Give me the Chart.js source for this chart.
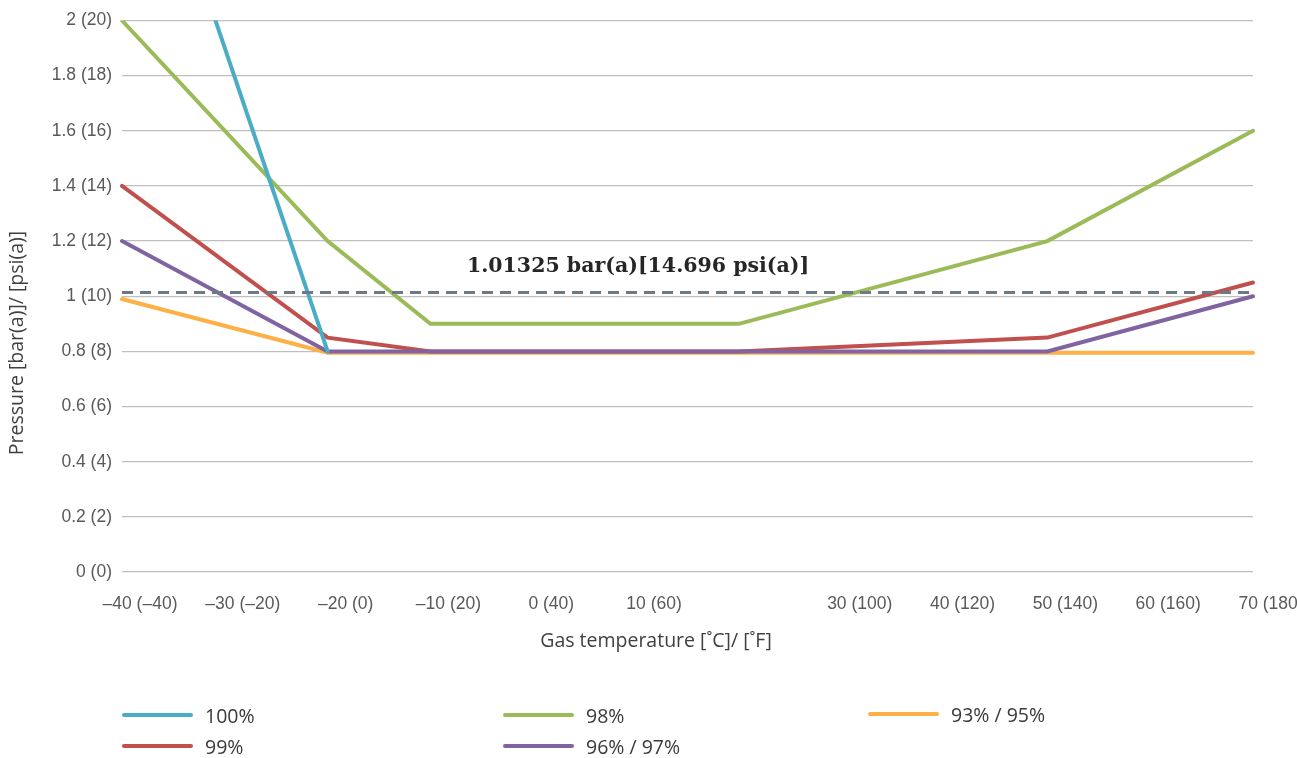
<!DOCTYPE html>
<html>
<head>
<meta charset="utf-8">
<script src="https://cdn.jsdelivr.net/npm/chart.js@4/dist/chart.umd.min.js"></script>
<style>
  html, body { margin: 0; padding: 0; background: #fff; }
  #wrap { position: relative; width: 1297px; height: 758px; overflow: hidden; }
  canvas { position: absolute; left: 0; top: 0; }
  .leg { position: absolute; display: flex; align-items: center; font-family: "Open Sans", sans-serif; font-size: 19.5px; color: #3a3a3a; }
  .leg span.sw { display: inline-block; width: 71px; height: 4px; border-radius: 2px; margin-right: 12px; flex: none; }
  .leg span.tx { display: inline-block; white-space: nowrap; }
</style>
</head>
<body>
<div id="wrap">
  <canvas id="c" width="1297" height="758"></canvas>
  <div id="legend"></div>
</div>
<script>
// ---- data ----
const categories = [-40, -30, -20, -10, 0, 10, 20, 30, 40, 50, 60, 70];
const xTickLabels = ["\u201340 (\u201340)", "\u201330 (\u201320)", "\u201320 (0)", "\u201310 (20)", "0 (40)", "10 (60)", "", "30 (100)", "40 (120)", "50 (140)", "60 (160)", "70 (180)"];
const yTickLabels = {0: "0 (0)", 0.2: "0.2 (2)", 0.4: "0.4 (4)", 0.6: "0.6 (6)", 0.8: "0.8 (8)", 1: "1 (10)", 1.2: "1.2 (12)", 1.4: "1.4 (14)", 1.6: "1.6 (16)", 1.8: "1.8 (18)", 2: "2 (20)"};

const s100   = [3.0, null, 0.8, null, null, null, null, null, null, null, null, null];
const s98    = [2.0, null, 1.2, 0.9, null, null, 0.9, null, null, 1.2, null, 1.6];
const s93_95 = [0.99, null, 0.795, null, null, null, null, null, null, null, null, 0.795];
const s99    = [1.4, null, 0.85, 0.8, null, null, 0.8, null, null, 0.85, null, 1.05];
const s96_97 = [1.2, null, 0.8, null, null, null, null, null, null, 0.8, null, 1.0];
const atmValue = 1.01325;
const atmSeries = categories.map(() => atmValue);
const atmLabel = "1.01325 bar(a)[14.696 psi(a)]";
const xTitle = "Gas temperature [˚C]/ [˚F]";
const yTitle = "Pressure [bar(a)]/ [psi(a)]";

const seriesNames = ["100%", "98%", "93% / 95%", "99%", "96% / 97%"];
const colors = {"100%": "#4bacc6", "98%": "#9bbb59", "93% / 95%": "#fdb045", "99%": "#c0504d", "96% / 97%": "#8064a2"};

// ---- legend (HTML) ----
const legendPos = [
  {name: "100%", x: 122, y: 714},
  {name: "98%", x: 503, y: 714},
  {name: "93% / 95%", x: 868, y: 713},
  {name: "99%", x: 122, y: 745},
  {name: "96% / 97%", x: 503, y: 745}
];
const legEl = document.getElementById('legend');
legendPos.forEach(p => {
  const d = document.createElement('div');
  d.className = 'leg';
  d.style.left = p.x + 'px';
  d.style.top = (p.y - 13) + 'px';
  d.style.height = '28px';
  d.innerHTML = '<span class="sw" style="background:' + colors[p.name] + '"></span><span class="tx">' + p.name + '</span>';
  legEl.appendChild(d);
});

const tickFont = {family: "'Liberation Sans', Arial, sans-serif", size: 17.5};

const annotationPlugin = {
  id: 'atmLabel',
  afterDatasetsDraw(chart) {
    const {ctx, scales: {x, y}} = chart;
    const px = x.getPixelForValue(5) + 2;
    const py = y.getPixelForValue(atmValue) - 26;
    ctx.save();
    ctx.font = "bold 20.5px 'DejaVu Serif', serif";
    ctx.fillStyle = '#262626';
    ctx.textAlign = 'center';
    ctx.textBaseline = 'middle';
    ctx.fillText(atmLabel, px, py);
    // axis titles
    ctx.fillStyle = '#404040';
    ctx.font = "19.5px 'Open Sans', sans-serif";
    ctx.fillText(xTitle, 656, 641);
    ctx.save();
    ctx.font = "19.5px 'Open Sans', sans-serif";
    ctx.translate(17, 343);
    ctx.rotate(-Math.PI / 2);
    ctx.fillText(yTitle, 0, 0);
    ctx.restore();
    ctx.restore();
  }
};

const line = (label, data, color) => ({
  label, data, borderColor: color, backgroundColor: color,
  borderWidth: 4, pointRadius: 0, spanGaps: true, tension: 0, borderCapStyle: 'round', borderJoinStyle: 'miter'
});

new Chart(document.getElementById('c'), {
  type: 'line',
  data: {
    labels: categories,
    datasets: [
      {label: 'atm', data: atmSeries, borderColor: '#6b7a86', borderWidth: 3, borderDash: [11, 7], pointRadius: 0},
      line("100%", s100, colors["100%"]),
      line("96% / 97%", s96_97, colors["96% / 97%"]),
      line("99%", s99, colors["99%"]),
      line("98%", s98, colors["98%"]),
      line("93% / 95%", s93_95, colors["93% / 95%"])
    ]
  },
  options: {
    responsive: false,
    animation: false,
    layout: {padding: {top: 18, right: 44, left: 0, bottom: 102}},
    plugins: {legend: {display: false}, tooltip: {enabled: false}},
    scales: {
      x: {
        type: 'category',
        offset: false,
        grid: {display: false, drawTicks: false},
        border: {display: false},
        ticks: {
          autoSkip: false, maxRotation: 0, padding: 22, labelOffset: 18,
          color: '#595959', font: tickFont,
          callback: (v, i) => xTickLabels[i]
        },
        afterFit: s => { s.height = 84; s.paddingRight = 0; s.paddingLeft = 0; }
      },
      y: {
        min: 0, max: 2,
        grid: {color: '#bfbfbf', lineWidth: 1.3, drawTicks: false},
        border: {display: false},
        ticks: {
          stepSize: 0.2, padding: 10, color: '#595959', font: tickFont,
          callback: v => yTickLabels[Math.round(v * 10) / 10]
        },
        afterFit: s => { s.width = 122; }
      }
    }
  },
  plugins: [annotationPlugin]
});
</script>
</body>
</html>
